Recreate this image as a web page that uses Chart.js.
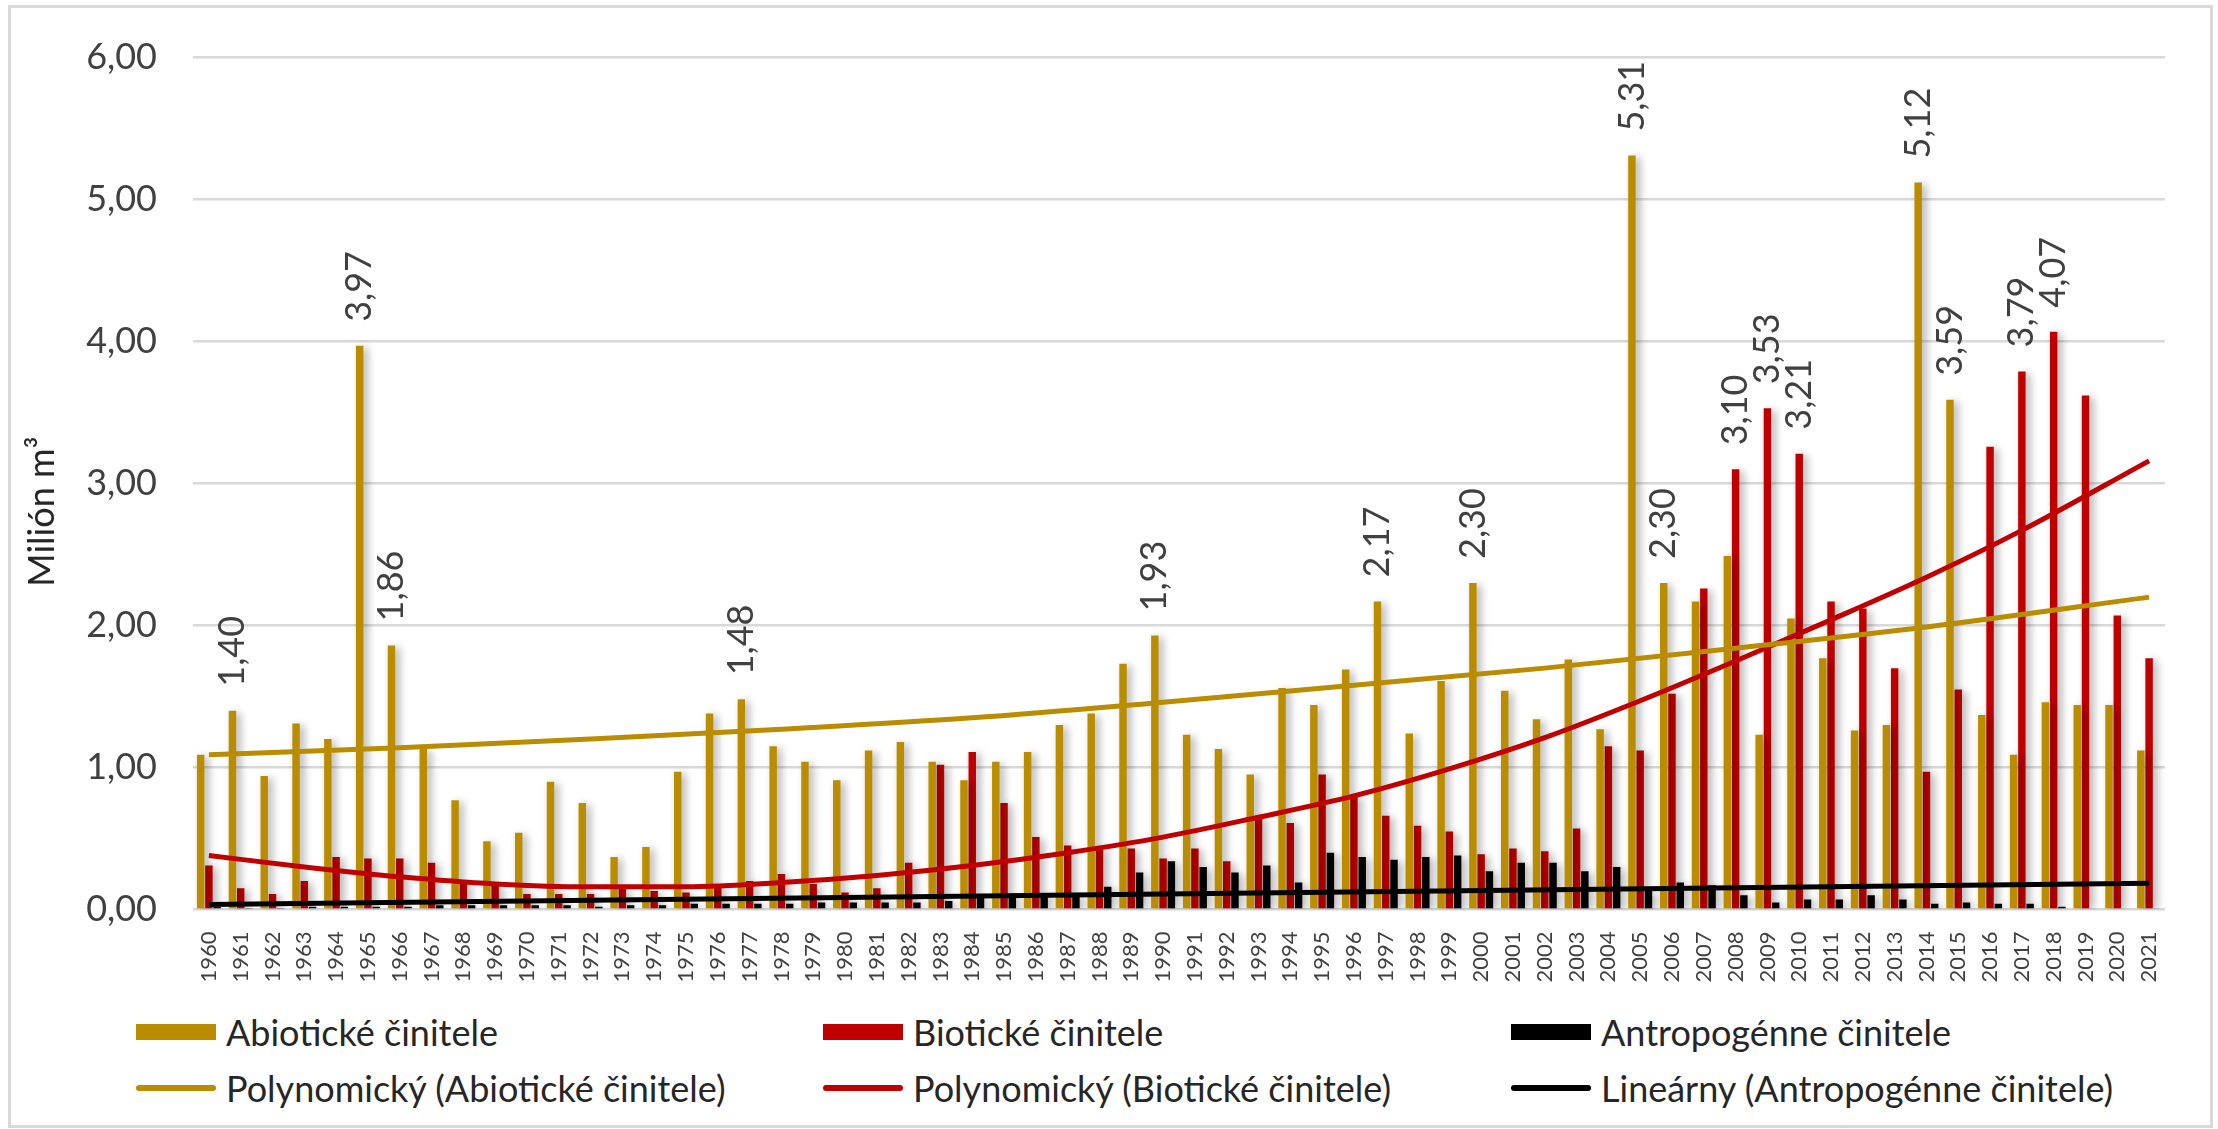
<!DOCTYPE html>
<html lang="sk">
<head>
<meta charset="UTF-8">
<title>Škodlivé činitele 1960 - 2021</title>
<script src="https://cdn.jsdelivr.net/npm/chart.js"></script>
<style>
    body { margin: 0; background: #fff; font-family: Lato, sans-serif; }
    #wrap { position: relative; width: 2218px; height: 1129px; overflow: hidden; }
    #frame { position: absolute; left: 8px; top: 5px; width: 2199px; height: 1117px; border: 3px solid #d9d9d9; }
    #chart { position: absolute; left: 0; top: 0; }
    .item { position: absolute; display: flex; align-items: center; height: 40px; font-size: 36px; color: #262626; white-space: nowrap; }
    .swatch { width: 80px; margin-right: 10px; }
</style>
</head>
<body>
<div id="wrap">
    <div id="frame"></div>
    <canvas id="chart" width="2218" height="1000"></canvas>
    <div id="legend"></div>
</div>

<script>
// roky
const years = ['1960','1961','1962','1963','1964','1965','1966','1967','1968','1969',
    '1970','1971','1972','1973','1974','1975','1976','1977','1978','1979',
    '1980','1981','1982','1983','1984','1985','1986','1987','1988','1989',
    '1990','1991','1992','1993','1994','1995','1996','1997','1998','1999',
    '2000','2001','2002','2003','2004','2005','2006','2007','2008','2009',
    '2010','2011','2012','2013','2014','2015','2016','2017','2018','2019',
    '2020','2021'];

// milión m3
const abioticke = [1.09,1.40,0.94,1.31,1.20,3.97,1.86,1.13,0.77,0.48,
    0.54,0.90,0.75,0.37,0.44,0.97,1.38,1.48,1.15,1.04,
    0.91,1.12,1.18,1.04,0.91,1.04,1.11,1.30,1.38,1.73,
    1.93,1.23,1.13,0.95,1.56,1.44,1.69,2.17,1.24,1.61,
    2.30,1.54,1.34,1.76,1.27,5.31,2.30,2.17,2.49,1.23,
    2.05,1.77,1.26,1.30,5.12,3.59,1.37,1.09,1.46,1.44,
    1.44,1.12];

const bioticke = [0.31,0.15,0.11,0.20,0.37,0.36,0.36,0.33,0.19,0.17,
    0.11,0.11,0.11,0.15,0.13,0.12,0.17,0.20,0.25,0.18,
    0.12,0.15,0.33,1.02,1.11,0.75,0.51,0.45,0.44,0.43,
    0.36,0.43,0.34,0.66,0.61,0.95,0.80,0.66,0.59,0.55,
    0.39,0.43,0.41,0.57,1.15,1.12,1.52,2.26,3.10,3.53,
    3.21,2.17,2.12,1.70,0.97,1.55,3.26,3.79,4.07,3.62,
    2.07,1.77];

const antropogenne = [0.02,0.01,0.01,0.02,0.02,0.02,0.02,0.03,0.03,0.03,
    0.03,0.03,0.02,0.03,0.03,0.04,0.04,0.04,0.04,0.05,
    0.05,0.05,0.05,0.06,0.09,0.10,0.11,0.10,0.16,0.26,
    0.34,0.30,0.26,0.31,0.19,0.40,0.37,0.35,0.37,0.38,
    0.27,0.33,0.33,0.27,0.30,0.13,0.19,0.17,0.10,0.05,
    0.07,0.07,0.10,0.07,0.04,0.05,0.04,0.04,0.02,0.00,
    0.00,0.00];

// trendy odčítané z grafu
const trendAbioYears = ['1960','1966','1972','1978','1984','1990','1996','2002','2008','2014','2021'];
const trendAbio = [1.09,1.14,1.20,1.27,1.35,1.46,1.58,1.70,1.84,1.99,2.20];

const trendBioYears = ['1960','1963','1966','1969','1972','1975','1978','1981','1984','1987','1990',
    '1993','1996','1999','2002','2005','2008','2011','2014','2017','2021'];
const trendBio = [0.38,0.30,0.23,0.18,0.16,0.16,0.19,0.24,0.31,0.40,0.51,
    0.65,0.80,0.99,1.21,1.47,1.75,2.04,2.34,2.67,3.16];

const trendAntroYears = ['1960','2021'];
const trendAntro = [0.035, 0.185];

// roky s popisom hodnoty
const labeledAbio = ['1961','1965','1966','1977','1990','1997','2000','2005','2006','2014','2015'];
const labeledBio = ['2008','2009','2010','2017','2018'];

const yTicks = [0, 1, 2, 3, 4, 5, 6];

const GOLD = '#BA8C00';
const RED = '#C00000';
const BLACK = '#000000';
const TEXT = '#404040';

function onYears(ys, vals) {
    return years.map(y => {
        const i = ys.indexOf(y);
        return i < 0 ? null : vals[i];
    });
}

function fmt(v) {
    return v.toFixed(2).replace('.', ',');
}

Chart.defaults.font.family = 'Lato, sans-serif';

// tieň pod stĺpcami
const barShadow = {
    id: 'barShadow',
    beforeDatasetDraw(chart, args) {
        if (args.meta.type !== 'bar') return;
        const ctx = chart.ctx;
        ctx.save();
        ctx.shadowColor = 'rgba(0,0,0,0.33)';
        ctx.shadowBlur = 9;
        ctx.shadowOffsetX = 4;
        ctx.shadowOffsetY = 2;
    },
    afterDatasetDraw(chart, args) {
        if (args.meta.type !== 'bar') return;
        chart.ctx.restore();
    }
};

// zvislé popisy hodnôt nad stĺpcami
const valueLabels = {
    id: 'valueLabels',
    afterDatasetsDraw(chart) {
        const ctx = chart.ctx;
        ctx.save();
        ctx.font = '36px Lato, sans-serif';
        ctx.fillStyle = TEXT;
        ctx.textAlign = 'left';
        ctx.textBaseline = 'middle';
        [[0, labeledAbio], [1, labeledBio]].forEach(([di, list]) => {
            const meta = chart.getDatasetMeta(di);
            list.forEach(y => {
                const i = years.indexOf(y);
                const bar = meta.data[i];
                const v = chart.data.datasets[di].data[i];
                ctx.save();
                ctx.translate(bar.x, bar.y - 24);
                ctx.rotate(-Math.PI / 2);
                ctx.fillText(fmt(v), 0, 0);
                ctx.restore();
            });
        });
        ctx.restore();
    }
};

// názov osi y, trochu pod stredom ako v Exceli
const axisTitle = {
    id: 'axisTitle',
    afterDraw(chart) {
        const ctx = chart.ctx;
        const a = chart.chartArea;
        ctx.save();
        ctx.font = '36px Lato, sans-serif';
        ctx.fillStyle = '#262626';
        ctx.textAlign = 'center';
        ctx.textBaseline = 'middle';
        ctx.translate(42, (a.top + a.bottom) / 2 + 28);
        ctx.rotate(-Math.PI / 2);
        ctx.fillText('Milión m³', 0, 0);
        ctx.restore();
    }
};

const lineStyle = {
    type: 'line',
    borderWidth: 5,
    pointRadius: 0,
    spanGaps: true,
    cubicInterpolationMode: 'monotone',
    fill: false,
    order: 0
};

const chart = new Chart(document.getElementById('chart'), {
    type: 'bar',
    data: {
        labels: years,
        datasets: [
            { label: 'Abiotické činitele', data: abioticke, backgroundColor: GOLD, order: 1 },
            { label: 'Biotické činitele', data: bioticke, backgroundColor: RED, order: 1 },
            { label: 'Antropogénne činitele', data: antropogenne, backgroundColor: BLACK, order: 1 },
            Object.assign({ label: 'Polynomický (Abiotické činitele)', data: onYears(trendAbioYears, trendAbio), borderColor: GOLD, backgroundColor: GOLD }, lineStyle),
            Object.assign({ label: 'Polynomický (Biotické činitele)', data: onYears(trendBioYears, trendBio), borderColor: RED, backgroundColor: RED }, lineStyle),
            Object.assign({ label: 'Lineárny (Antropogénne činitele)', data: onYears(trendAntroYears, trendAntro), borderColor: BLACK, backgroundColor: BLACK }, lineStyle)
        ]
    },
    options: {
        responsive: false,
        animation: false,
        datasets: {
            bar: { categoryPercentage: 0.78, barPercentage: 0.9 }
        },
        layout: { padding: { left: 0, top: 53, right: 53, bottom: 0 } },
        plugins: {
            legend: { display: false },
            tooltip: { enabled: false }
        },
        scales: {
            x: {
                grid: { display: false },
                border: { display: false },
                ticks: {
                    color: TEXT,
                    font: { size: 22 },
                    minRotation: 90,
                    maxRotation: 90,
                    autoSkip: false,
                    padding: 14
                },
                afterFit: s => { s.height = 90.5; }
            },
            y: {
                min: 0,
                max: 6,
                afterBuildTicks: s => { s.ticks = yTicks.map(v => ({ value: v })); },
                grid: { color: '#d9d9d9', lineWidth: 2.5, drawTicks: false },
                border: { display: false },
                ticks: {
                    color: TEXT,
                    font: { size: 36 },
                    padding: 36,
                    callback: v => fmt(v)
                },
                afterFit: s => { s.width = 193; }
            }
        }
    },
    plugins: [barShadow, valueLabels, axisTitle]
});

// legenda v troch stĺpcoch
const legendCols = [136, 823, 1511];
const legendRows = [1032, 1088];
const legend = document.getElementById('legend');
chart.data.datasets.forEach((ds, i) => {
    const item = document.createElement('div');
    item.className = 'item';
    item.style.left = legendCols[i % 3] + 'px';
    item.style.top = (legendRows[Math.floor(i / 3)] - 20) + 'px';
    const sw = document.createElement('span');
    sw.className = 'swatch';
    sw.style.background = ds.backgroundColor;
    sw.style.height = ds.type === 'line' ? '6px' : '16px';
    if (ds.type === 'line') sw.style.borderRadius = '3px';
    item.appendChild(sw);
    item.appendChild(document.createTextNode(ds.label));
    legend.appendChild(item);
});
</script>
</body>
</html>
